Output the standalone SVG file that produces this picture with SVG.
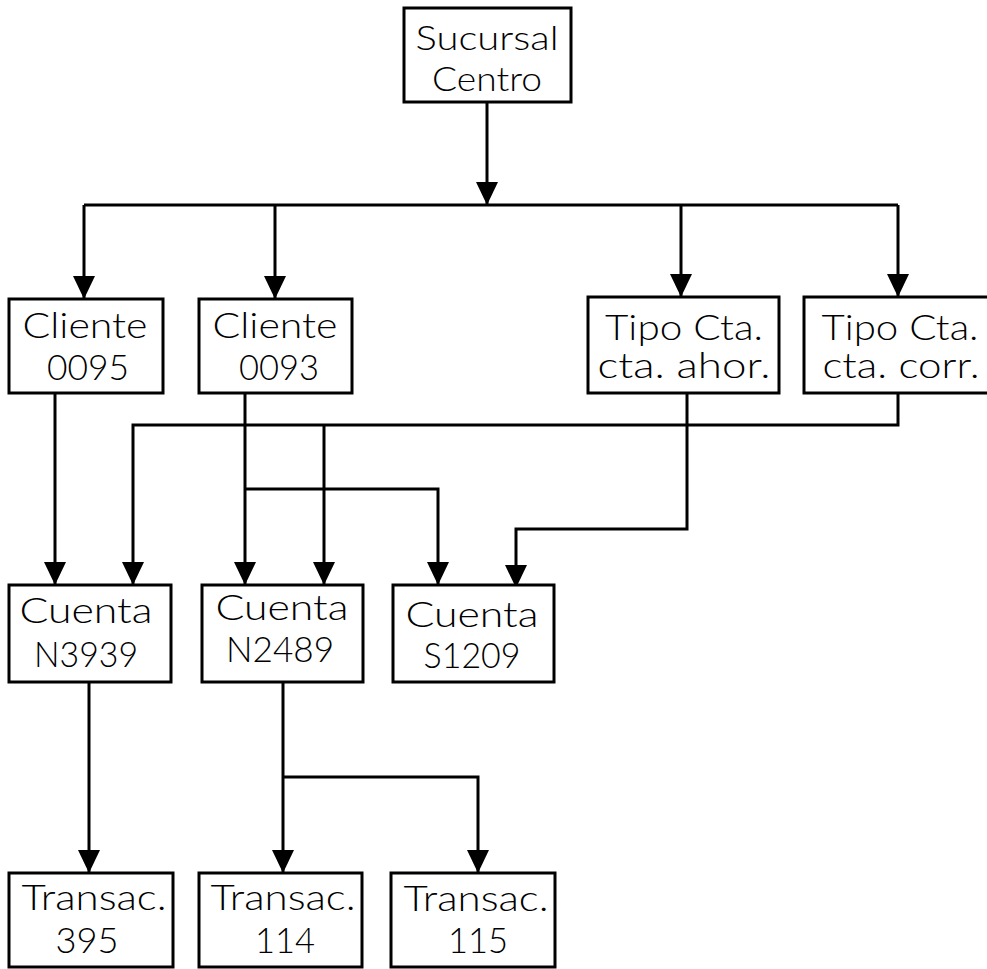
<svg xmlns="http://www.w3.org/2000/svg" width="987" height="969" viewBox="0 0 987 969">
  <style>
    .box { fill: #ffffff; stroke: #000000; stroke-width: 3; }
    .lbl { font-family: "Lato", "Open Sans", "DejaVu Sans", sans-serif; font-size: 35px; font-weight: 300; fill: #000000; text-anchor: middle; }
    .tight { font-size: 34px; }
    .wire { fill: none; stroke: #000000; stroke-width: 3; }
    .arr { fill: none; stroke: #000000; stroke-width: 3; marker-end: url(#head); }
  </style>
  <defs>
    <marker id="head" markerUnits="userSpaceOnUse" markerWidth="24" markerHeight="22" refX="23" refY="11" orient="auto">
      <path d="M0,0 L23,11 L0,22 Z" fill="#000000"/>
    </marker>
  </defs>
  <rect width="987" height="969" fill="#ffffff"/>

  <!-- connectors -->
  <g id="connectors">
    <path class="arr" d="M487,102 V205"/>
    <path class="wire" d="M84,205 H898"/>
    <path class="arr" d="M84,205 V299"/>
    <path class="arr" d="M275,205 V299"/>
    <path class="arr" d="M681,205 V297"/>
    <path class="arr" d="M898,205 V297"/>

    <path class="arr" d="M55,393 V585"/>
    <path class="arr" d="M898,393 V425 H133 V585"/>
    <path class="arr" d="M324,425 V585"/>
    <path class="arr" d="M245,393 V585"/>
    <path class="arr" d="M245,489 H438 V585"/>
    <path class="arr" d="M687,393 V529 H516 V588"/>

    <path class="arr" d="M89,682 V873"/>
    <path class="arr" d="M283,682 V873"/>
    <path class="arr" d="M283,777 H478 V873"/>
  </g>

  <!-- nodes -->
  <g id="sucursal-centro">
    <rect class="box" x="404" y="8" width="167" height="94"/>
    <text class="lbl tight" x="487" y="50" textLength="143" lengthAdjust="spacingAndGlyphs">Sucursal</text>
    <text class="lbl tight" x="487" y="91" textLength="110" lengthAdjust="spacingAndGlyphs">Centro</text>
  </g>

  <g id="cliente-0095">
    <rect class="box" x="9" y="299" width="154" height="94"/>
    <text class="lbl" x="85" y="338" textLength="125" lengthAdjust="spacingAndGlyphs">Cliente</text>
    <text class="lbl" x="88" y="380" textLength="82" lengthAdjust="spacingAndGlyphs">0095</text>
  </g>

  <g id="cliente-0093">
    <rect class="box" x="199" y="299" width="153" height="94"/>
    <text class="lbl" x="275" y="338" textLength="125" lengthAdjust="spacingAndGlyphs">Cliente</text>
    <text class="lbl" x="279" y="380" textLength="80" lengthAdjust="spacingAndGlyphs">0093</text>
  </g>

  <g id="tipo-cta-ahor">
    <rect class="box" x="588" y="297" width="191" height="96"/>
    <text class="lbl" x="684" y="340" textLength="158" lengthAdjust="spacingAndGlyphs">Tipo Cta.</text>
    <text class="lbl" x="684" y="378" textLength="173" lengthAdjust="spacingAndGlyphs">cta. ahor.</text>
  </g>

  <g id="tipo-cta-corr">
    <rect class="box" x="804" y="297" width="186" height="96"/>
    <text class="lbl" x="900" y="340" textLength="157" lengthAdjust="spacingAndGlyphs">Tipo Cta.</text>
    <text class="lbl" x="901" y="378" textLength="157" lengthAdjust="spacingAndGlyphs">cta. corr.</text>
  </g>

  <g id="cuenta-n3939">
    <rect class="box" x="9" y="585" width="162" height="97"/>
    <text class="lbl" x="86" y="623" textLength="133" lengthAdjust="spacingAndGlyphs">Cuenta</text>
    <text class="lbl" x="86" y="667" textLength="104" lengthAdjust="spacingAndGlyphs">N3939</text>
  </g>

  <g id="cuenta-n2489">
    <rect class="box" x="202" y="585" width="161" height="97"/>
    <text class="lbl" x="282" y="620" textLength="133" lengthAdjust="spacingAndGlyphs">Cuenta</text>
    <text class="lbl" x="280" y="662" textLength="108" lengthAdjust="spacingAndGlyphs">N2489</text>
  </g>

  <g id="cuenta-s1209">
    <rect class="box" x="393" y="585" width="161" height="97"/>
    <text class="lbl" x="472" y="627" textLength="133" lengthAdjust="spacingAndGlyphs">Cuenta</text>
    <text class="lbl" x="472" y="668" textLength="97" lengthAdjust="spacingAndGlyphs">S1209</text>
  </g>

  <g id="transac-395">
    <rect class="box" x="9" y="873" width="164" height="94"/>
    <text class="lbl" x="94" y="910" textLength="145" lengthAdjust="spacingAndGlyphs">Transac.</text>
    <text class="lbl" x="87" y="953" textLength="63" lengthAdjust="spacingAndGlyphs">395</text>
  </g>

  <g id="transac-114">
    <rect class="box" x="199" y="873" width="163" height="94"/>
    <text class="lbl" x="283" y="910" textLength="145" lengthAdjust="spacingAndGlyphs">Transac.</text>
    <text class="lbl" x="285" y="953" textLength="60" lengthAdjust="spacingAndGlyphs">114</text>
  </g>

  <g id="transac-115">
    <rect class="box" x="391" y="873" width="164" height="94"/>
    <text class="lbl" x="476" y="911" textLength="145" lengthAdjust="spacingAndGlyphs">Transac.</text>
    <text class="lbl" x="478" y="953" textLength="60" lengthAdjust="spacingAndGlyphs">115</text>
  </g>
</svg>
